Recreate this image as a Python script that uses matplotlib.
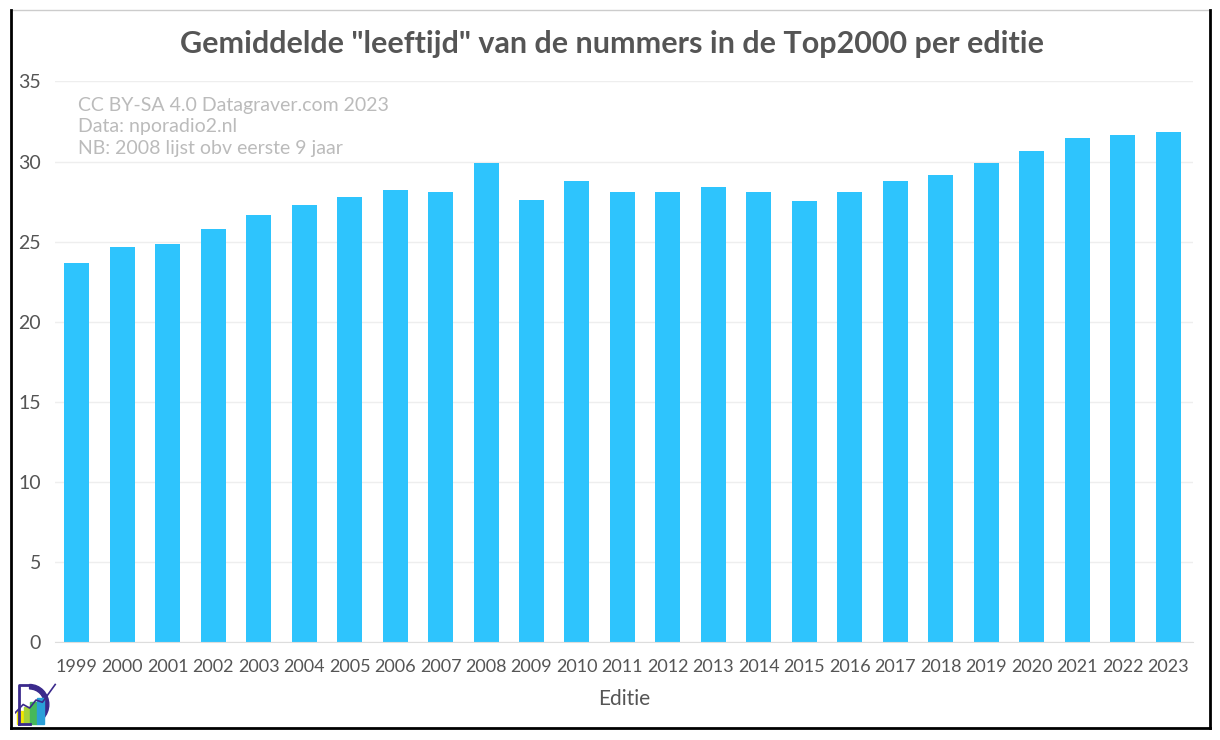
import matplotlib
matplotlib.use("Agg")
import matplotlib.pyplot as plt
from matplotlib.patches import Rectangle, Wedge
from matplotlib.lines import Line2D

plt.rcParams['font.family'] = ['Lato', 'DejaVu Sans']

# data
edities = [str(y) for y in range(1999, 2024)]
leeftijd = [23.64, 24.64, 24.83, 25.76, 26.64, 27.26, 27.76, 28.2, 28.07, 29.88,
            27.57, 28.76, 28.13, 28.07, 28.38, 28.13, 27.51, 28.13, 28.76, 29.13,
            29.88, 30.63, 31.44, 31.63, 31.82]
yticks = [0, 5, 10, 15, 20, 25, 30, 35]

title = 'Gemiddelde "leeftijd" van de nummers in de Top2000 per editie'
note = "CC BY-SA 4.0 Datagraver.com 2023\nData: nporadio2.nl\nNB: 2008 lijst obv eerste 9 jaar"

fig = plt.figure(figsize=(12.2, 7.4), dpi=100)
ax = fig.add_axes([0.045, 0.132, 0.933, 0.758])

x = range(len(edities))
ax.bar(x, leeftijd, width=0.55, color="#2ec4fd", zorder=2)

ax.set_xlim(-0.48, 24.55)
ax.set_ylim(0, 35)
ax.set_yticks(yticks)
ax.set_xticks(list(x))
ax.set_xticklabels(edities)
ax.tick_params(axis="both", length=0, colors="#555555")
ax.tick_params(axis="x", pad=12, labelsize=13)
ax.tick_params(axis="y", pad=10, labelsize=14)
ax.grid(axis="y", color="#eeeeee", linewidth=1, zorder=0)
for s in ["top", "right", "left"]:
    ax.spines[s].set_visible(False)
ax.spines["bottom"].set_color("#dddddd")
ax.set_xlabel("Editie", fontsize=15, color="#555555", labelpad=10)

fig.text(0.502, 0.94, title, ha="center", va="center", fontsize=22,
         fontweight="bold", color="#555555")
ax.text(0.02, 0.972, note, transform=ax.transAxes, ha="left", va="top",
        fontsize=14, color="#bbbbbb", linespacing=1.3)

# frame around the picture
fig.add_artist(Line2D([0.009, 0.991], [0.986, 0.986], color="#cccccc", lw=1, transform=fig.transFigure))
fig.add_artist(Line2D([0.009, 0.009], [0.986, 0.016], color="black", lw=2, transform=fig.transFigure))
fig.add_artist(Line2D([0.009, 0.992], [0.016, 0.016], color="black", lw=2, transform=fig.transFigure))
fig.add_artist(Line2D([0.992, 0.992], [0.016, 0.986], color="black", lw=2, transform=fig.transFigure))

# small logo bottom left
lax = fig.add_axes([0.012, 0.018, 0.035, 0.06])
lax.set_xlim(0, 1)
lax.set_ylim(0, 1)
lax.axis("off")
lax.add_patch(Wedge((0.35, 0.5), 0.45, -90, 90, width=0.1, color="#3b2a8c"))
lax.add_artist(Line2D([0.1, 0.1, 0.35], [0.05, 0.95, 0.95], color="#3b2a8c", lw=2))
lax.add_artist(Line2D([0.1, 0.35], [0.05, 0.05], color="#3b2a8c", lw=2))
cols = ["#f2e600", "#a6d23a", "#46b85a", "#2a9fd8"]
for i, c in enumerate(cols):
    h = 0.3 + 0.1 * i
    lax.add_patch(Rectangle((0.05 + i * 0.16, 0.05), 0.15, h, color=c))
lax.add_artist(Line2D([0.0, 0.2, 0.35, 0.5, 0.65, 0.95], [0.3, 0.5, 0.42, 0.6, 0.55, 0.95],
                      color="#3b2a8c", lw=1.2))

fig.savefig("out.png", dpi=100, facecolor="white")
